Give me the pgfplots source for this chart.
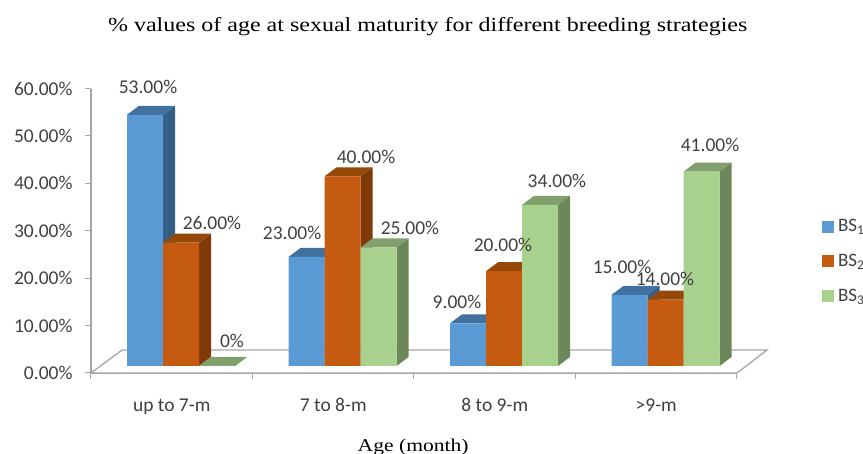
\documentclass[border=0pt]{standalone}
\usepackage{fontspec}
\setmainfont{Carlito}
\newfontfamily\titlefont[FakeStretch=1.2]{Liberation Serif}
\usepackage{pgfplots}
\pgfplotsset{compat=1.18}
\definecolor{bluef}{HTML}{5B9BD5}
\definecolor{blues}{HTML}{365F88}
\definecolor{bluet}{HTML}{41719F}
\definecolor{orf}{HTML}{C55A11}
\definecolor{ors}{HTML}{7F3A08}
\definecolor{ort}{HTML}{964808}
\definecolor{grf}{HTML}{A9D18E}
\definecolor{grs}{HTML}{6C8759}
\definecolor{grt}{HTML}{82A06D}
\definecolor{axc}{HTML}{A6A6A6}
\definecolor{txt}{HTML}{404040}
% bar geometry in axis units
\def\bw{0.2229}
\def\ddx{0.0743}
\def\ddy{1.9}
\def\base{1.48}
\newcommand{\cube}[5]{%
  \pgfmathsetmacro{\xa}{#1}%
  \pgfmathsetmacro{\xb}{#1+\bw}%
  \pgfmathsetmacro{\xc}{#1+\bw+\ddx}%
  \pgfmathsetmacro{\xd}{#1+\ddx}%
  \pgfmathsetmacro{\ya}{\base}%
  \pgfmathsetmacro{\yb}{\base+#2}%
  \pgfmathsetmacro{\yc}{\base+#2+\ddy}%
  \pgfmathsetmacro{\yd}{\base+\ddy}%
  \edef\tmp{\noexpand\addplot[fill=#4,draw=none,forget plot] coordinates {(\xb,\ya) (\xc,\yd) (\xc,\yc) (\xb,\yb) (\xb,\ya)};
  \noexpand\addplot[fill=#5,draw=none,forget plot] coordinates {(\xa,\yb) (\xb,\yb) (\xc,\yc) (\xd,\yc) (\xa,\yb)};
  \noexpand\addplot[fill=#3,draw=none,forget plot] coordinates {(\xa,\ya) (\xb,\ya) (\xb,\yb) (\xa,\yb) (\xa,\ya)};}%
  \tmp
}
\newcommand{\lbl}[3]{\node[font=\fontsize{19.5}{20}\selectfont,text=txt] at (axis cs:#1,#2) {#3};}
\begin{document}
\begin{tikzpicture}
\useasboundingbox (-91pt,-81pt) rectangle (772pt,373pt);
\begin{axis}[
  scale only axis,
  width=646pt,
  height=284.4pt,
  xmin=0,xmax=4,
  ymin=0,ymax=60,
  clip=false,
  axis x line*=bottom,
  axis y line*=left,
  axis line style={draw=axc,line width=1.3pt,-},
  tick style={draw=axc,line width=1pt},
  tick align=outside,
  major tick length=6pt,
  xtick={0,1,2,3,4},
  x tick label as interval,
  xticklabels={up to 7-m,7 to 8-m,8 to 9-m,>9-m},
  ytick={0,10,20,30,40,50,60},
  yticklabels={0.00\%,10.00\%,20.00\%,30.00\%,40.00\%,50.00\%,60.00\%},
  tick label style={font=\fontsize{19.5}{20}\selectfont,text=txt},
  xticklabel style={yshift=-16pt},
  yticklabel style={xshift=-9pt},
  legend style={at={(1.126,0.555)},anchor=north west,draw=none,fill=none,
    font=\fontsize{19}{19}\selectfont,text=txt,row sep=17pt,
    nodes={inner xsep=5pt}},
  legend cell align=left,
  legend image code/.code={\fill[#1] (0pt,-5.5pt) rectangle (11pt,5.5pt);},
]
\addlegendimage{bluef}\addlegendentry{BS\textsubscript{1}}
\addlegendimage{orf}\addlegendentry{BS\textsubscript{2}}
\addlegendimage{grf}\addlegendentry{BS\textsubscript{3}}
% floor
\addplot[fill=white,draw=axc,line width=1.3pt,forget plot] coordinates {(0,0) (0.192,4.85) (4.186,4.85) (4,0) (0,0)};
% up to 7-m
\cube{0.223}{53}{bluef}{blues}{bluet}
\cube{0.446}{26}{orf}{ors}{ort}
\cube{0.669}{0}{grf}{grs}{grt}
% 7 to 8-m
\cube{1.223}{23}{bluef}{blues}{bluet}
\cube{1.446}{40}{orf}{ors}{ort}
\cube{1.669}{25}{grf}{grs}{grt}
% 8 to 9-m
\cube{2.223}{9}{bluef}{blues}{bluet}
\cube{2.446}{20}{orf}{ors}{ort}
\cube{2.669}{34}{grf}{grs}{grt}
% >9-m
\cube{3.223}{15}{bluef}{blues}{bluet}
\cube{3.446}{14}{orf}{ors}{ort}
\cube{3.669}{41}{grf}{grs}{grt}
% value labels
\lbl{0.353}{60.3}{53.00\%}
\lbl{0.749}{31.6}{26.00\%}
\lbl{0.873}{6.7}{0\%}
\lbl{1.245}{29.5}{23.00\%}
\lbl{1.703}{45.6}{40.00\%}
\lbl{1.975}{30.6}{25.00\%}
\lbl{2.266}{15}{9.00\%}
\lbl{2.551}{27}{20.00\%}
\lbl{2.885}{40.5}{34.00\%}
\lbl{3.288}{22.3}{15.00\%}
\lbl{3.554}{19.8}{14.00\%}
\lbl{3.833}{48.1}{41.00\%}
\node[font=\titlefont\fontsize{20}{21}\selectfont,anchor=center] at (axis cs:2.085,73.0) {\% values of age at sexual maturity for different breeding strategies};
\node[font=\titlefont\fontsize{18}{19}\selectfont,anchor=center] at (axis cs:1.995,-15.7) {Age (month)};
\end{axis}
\end{tikzpicture}
\end{document}
